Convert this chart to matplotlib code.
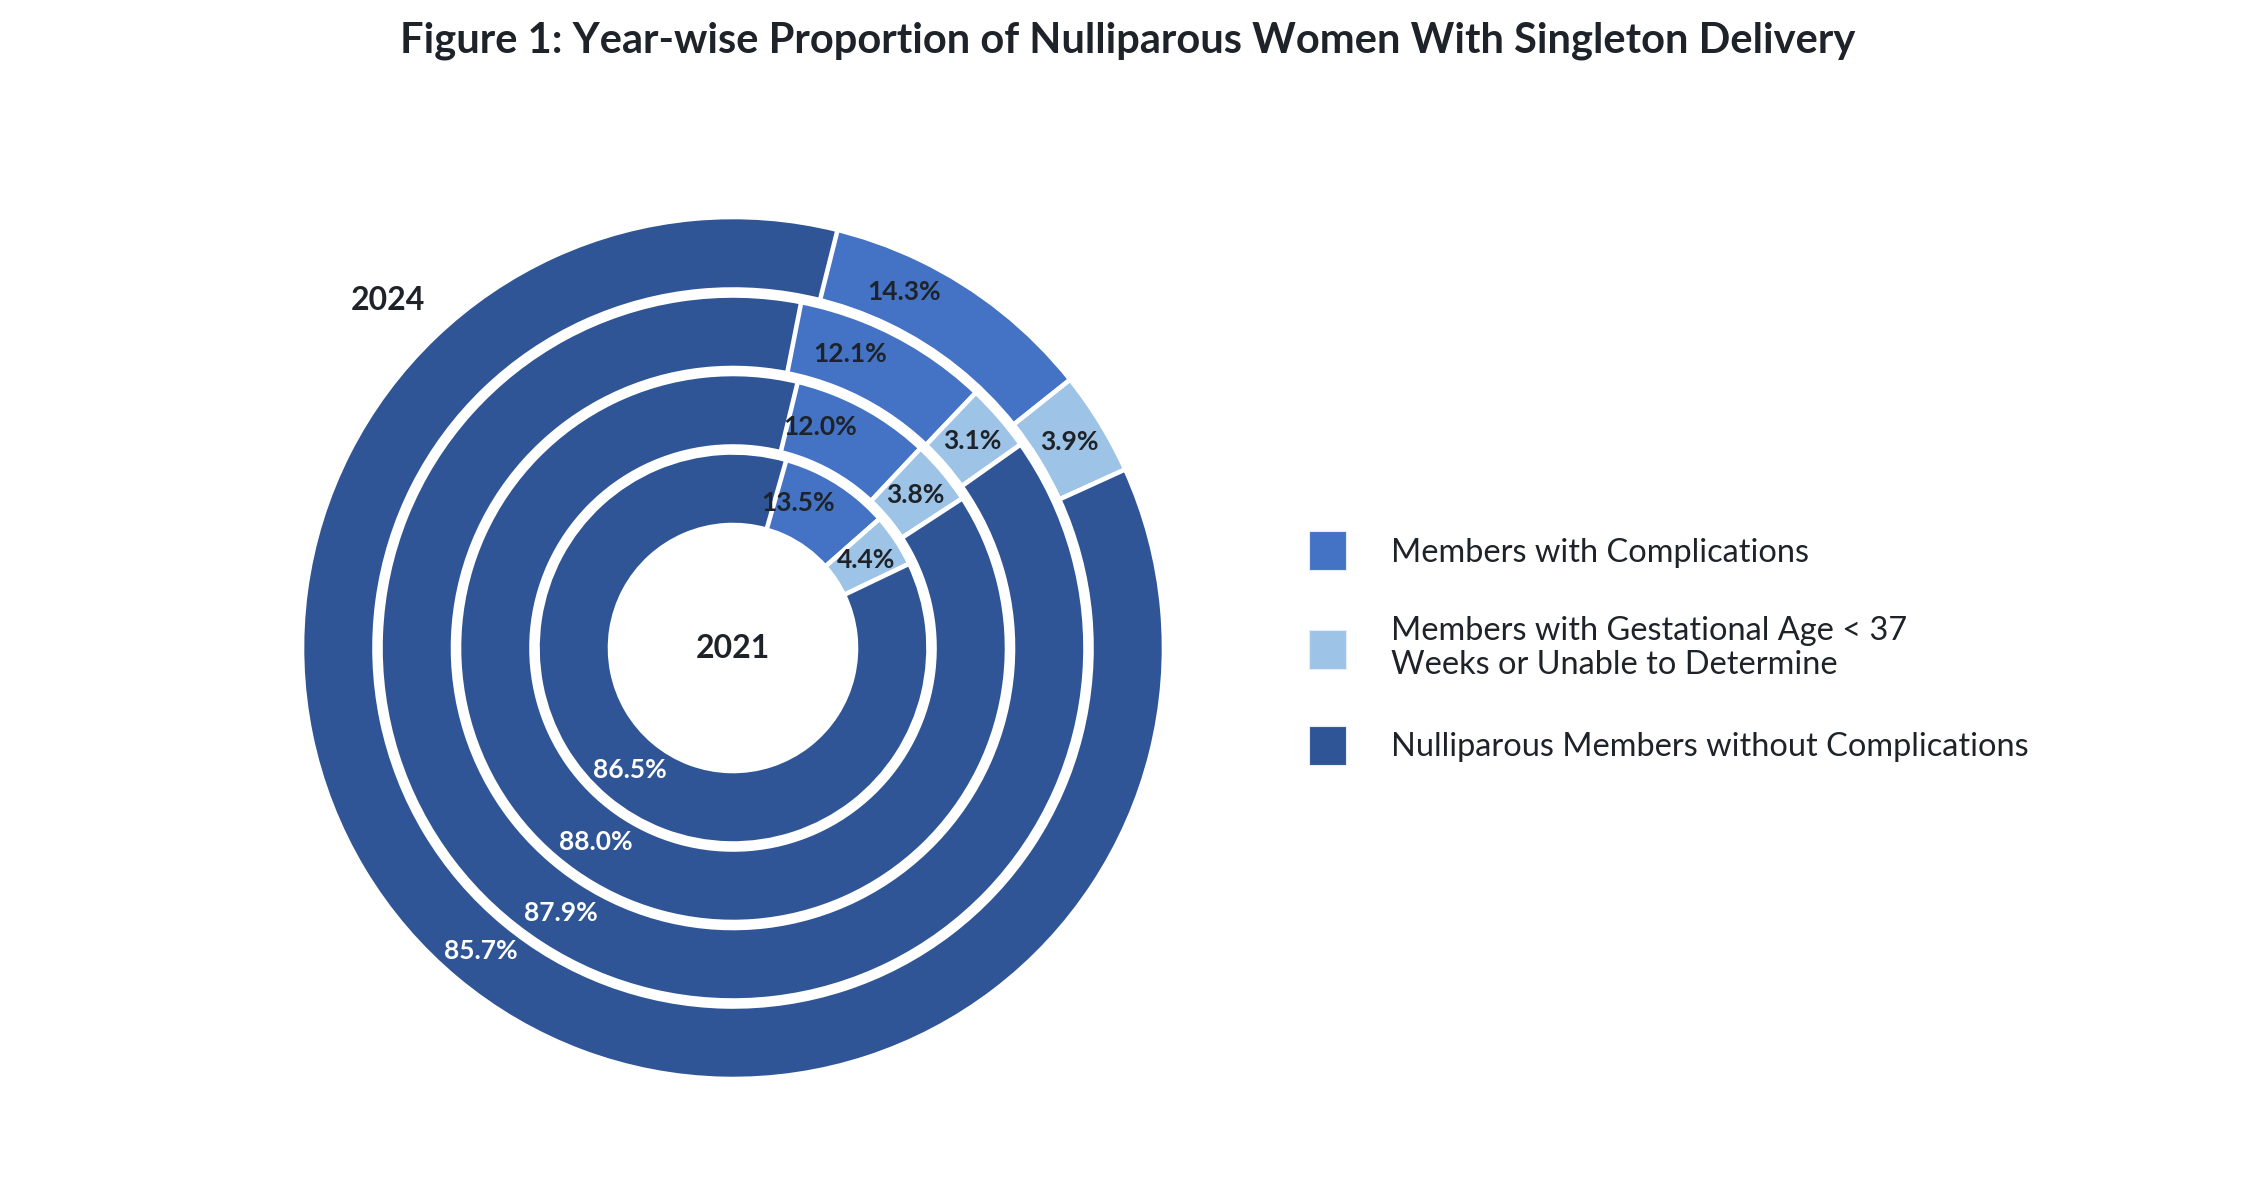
import numpy as np
import matplotlib
matplotlib.use("Agg")
import matplotlib.pyplot as plt
from matplotlib.patches import Wedge, Patch

plt.rcParams['font.family'] = ['Lato', 'DejaVu Sans']

# data, outer ring first
years = ['2024', '2023', '2022', '2021']
complications = [14.3, 12.1, 12.0, 13.5]
gestational = [3.9, 3.1, 3.8, 4.4]
no_complications = [85.7, 87.9, 88.0, 86.5]

series_names = ['Members with Complications',
                'Members with Gestational Age < 37\nWeeks or Unable to Determine',
                'Nulliparous Members without Complications']
colors = ['#4472C4', '#9DC3E6', '#2F5597']
label_colors = ['#1e2329', '#1e2329', 'white']
text_color = '#1e2329'

W, H = 2256, 1200
fig = plt.figure(figsize=(W / 100, H / 100), dpi=100)

# pie axes, units in pixels, centre of the rings at (733, 648)
R = 431
cx, cy = 733, 648
ax = fig.add_axes([(cx - R) / W, (H - cy - R) / H, 2 * R / W, 2 * R / H])
ax.set_xlim(-R, R)
ax.set_ylim(-R, R)
ax.set_aspect('equal')
ax.axis('off')

ring_width = 72.5
ring_pitch = 78.5
edge_lw = 3.3

for i, year in enumerate(years):
    r_out = R - i * ring_pitch
    r_mid = r_out - ring_width / 2
    vals = [complications[i], gestational[i], no_complications[i]]
    # every slice takes its own share of 360 degrees, clockwise from 12 o'clock
    start = 0.0
    for v, col, lc in zip(vals, colors, label_colors):
        end = start + v * 3.6
        w = Wedge((0, 0), r_out, 90 - end, 90 - start, width=ring_width,
                  facecolor=col, edgecolor='white', linewidth=edge_lw)
        ax.add_patch(w)
        mid = np.deg2rad(90 - (start + end) / 2)
        ax.text(r_mid * np.cos(mid), r_mid * np.sin(mid), f'{v:.1f}%',
                ha='center', va='center', fontsize=19, fontweight='bold',
                color=lc, zorder=5)
        start = end

ax.text(-345, 347, years[0], ha='center', va='center', fontsize=23,
        fontweight='bold', color=text_color)
ax.text(0, 0, years[-1], ha='center', va='center', fontsize=23,
        fontweight='bold', color=text_color)

fig.text(0.5, 1 - 53 / H,
         'Figure 1: Year-wise Proportion of Nulliparous Women With Singleton Delivery',
         ha='center', va='baseline', fontsize=30, fontweight='bold', color=text_color)

handles = [Patch(facecolor=c, edgecolor='#e6ecf5', linewidth=0.8) for c in colors]
leg = fig.legend(handles, series_names, loc='center left',
                 bbox_to_anchor=(1309 / W, 1 - 648 / H), frameon=False,
                 fontsize=23.4, handlelength=1.15, handleheight=1.45,
                 handletextpad=1.36, labelspacing=1.42, borderpad=0,
                 borderaxespad=0)
for t in leg.get_texts():
    t.set_color(text_color)
    t.set_linespacing(1.15)

fig.savefig('out.png', dpi=100, facecolor='white')
